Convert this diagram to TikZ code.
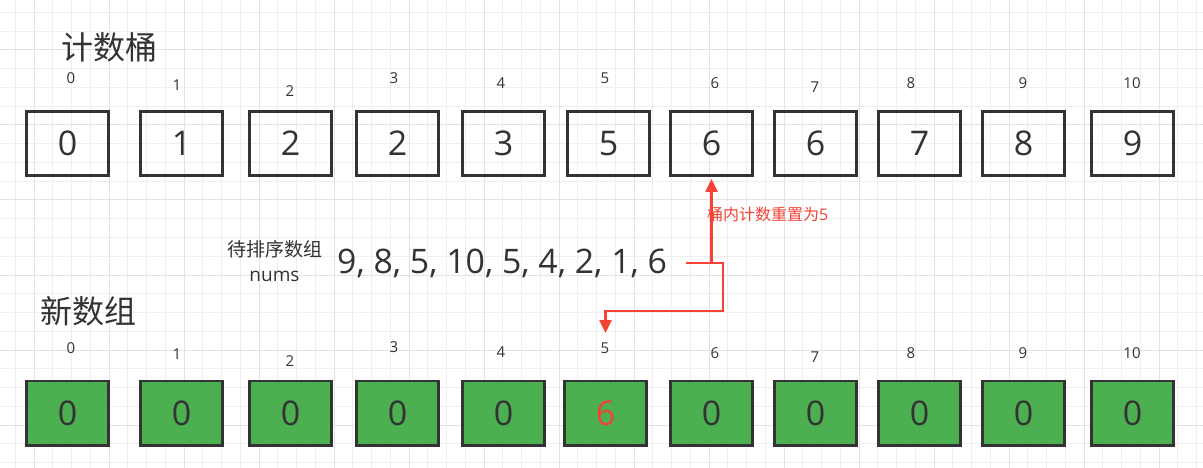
\documentclass[tikz,border=0pt]{standalone}
\usepackage{fontspec}
\setmainfont{Open Sans}
\newfontfamily\cjk{Noto Sans CJK SC}
\usetikzlibrary{arrows.meta}
\definecolor{ink}{HTML}{333333}
\definecolor{cellgreen}{HTML}{4CAF50}
\definecolor{markred}{HTML}{F44336}
\definecolor{minorline}{HTML}{EFEFEF}
\definecolor{majorline}{HTML}{E2E2E2}
\tikzset{
  bucket/.style={draw=ink, line width=2.7pt, minimum width=82.3pt, minimum height=64.3pt,
    inner sep=0pt, text=ink, font=\fontsize{34}{34}\selectfont},
  newcell/.style={bucket, fill=cellgreen},
  idx/.style={text=ink, inner sep=0pt, font=\fontsize{15}{15}\selectfont},
  heading/.style={text=ink, inner sep=0pt, font=\cjk\fontsize{32}{32}\selectfont},
  flow/.style={draw=markred, line width=2.5pt, -{Triangle[length=13pt,width=12pt]}},
}

\begin{document}
\begin{tikzpicture}[x=1pt,y=-1pt]
\fill [white] (0,0) rectangle (1203,468);
\useasboundingbox (0,0) rectangle (1203,468);
\foreach \gx in {15.25,34,...,1203} \draw [minorline, line width=1pt] (\gx,0) -- (\gx,468);
\foreach \gy in {12.5,31.25,...,468} \draw [minorline, line width=1pt] (0,\gy) -- (1203,\gy);
\foreach \gx in {34,109,...,1203} \draw [majorline, line width=1pt] (\gx,0) -- (\gx,468);
\foreach \gy in {50,125,...,468} \draw [majorline, line width=1pt] (0,\gy) -- (1203,\gy);

\node [heading] (bucketTitle) at (109,47) {计数桶};
\node [heading] (newTitle) at (88.5,311) {新数组};

\node [idx] (bi0) at (71,78) {0};
\node [idx] (bi1) at (177,85.5) {1};
\node [idx] (bi2) at (290,91.5) {2};
\node [idx] (bi3) at (394,78) {3};
\node [idx] (bi4) at (501,83) {4};
\node [idx] (bi5) at (605,78) {5};
\node [idx] (bi6) at (715,83) {6};
\node [idx] (bi7) at (815,87) {7};
\node [idx] (bi8) at (911,83) {8};
\node [idx] (bi9) at (1023,83) {9};
\node [idx] (bi10) at (1132,83) {10};

\node [bucket] (b0) at (67.5,143.5) {0};
\node [bucket] (b1) at (181.5,143.5) {1};
\node [bucket] (b2) at (290.5,143.5) {2};
\node [bucket] (b3) at (397.5,143.5) {2};
\node [bucket] (b4) at (503.5,143.5) {3};
\node [bucket] (b5) at (608.5,143.5) {5};
\node [bucket] (b6) at (711.5,143.5) {6};
\node [bucket] (b7) at (815.5,143.5) {6};
\node [bucket] (b8) at (919.5,143.5) {7};
\node [bucket] (b9) at (1023.5,143.5) {8};
\node [bucket] (b10) at (1132.5,143.5) {9};

\node [text=ink, align=center, inner sep=0pt, font=\fontsize{19}{25}\selectfont] (numsLabel) at (274.5,261.5) {{\cjk 待排序数组}\\nums};
\node [text=ink, inner sep=0pt, anchor=base west, font=\fontsize{33.8}{34}\selectfont] (nums) at (337,273) {9, 8, 5, 10, 5, 4, 2, 1, 6};
\node [text=markred, inner sep=0pt, anchor=base west, font=\fontsize{16}{16}\selectfont] (resetNote) at (707,221) {{\cjk 桶内计数重置为}5};

\node [idx] (ni0) at (71,348) {0};
\node [idx] (ni1) at (177,354) {1};
\node [idx] (ni2) at (290,361) {2};
\node [idx] (ni3) at (394,347) {3};
\node [idx] (ni4) at (501,352) {4};
\node [idx] (ni5) at (605,348.5) {5};
\node [idx] (ni6) at (715,353) {6};
\node [idx] (ni7) at (815,357) {7};
\node [idx] (ni8) at (911,353) {8};
\node [idx] (ni9) at (1023,353) {9};
\node [idx] (ni10) at (1132,353) {10};

\node [newcell] (n0) at (67.5,413) {0};
\node [newcell] (n1) at (181.5,413) {0};
\node [newcell] (n2) at (290.5,413) {0};
\node [newcell] (n3) at (397.5,413) {0};
\node [newcell] (n4) at (503.5,413) {0};
\node [newcell, text=markred] (n5) at (605.5,413) {6};
\node [newcell] (n6) at (711.5,413) {0};
\node [newcell] (n7) at (815.5,413) {0};
\node [newcell] (n8) at (919.5,413) {0};
\node [newcell] (n9) at (1023.5,413) {0};
\node [newcell] (n10) at (1132.5,413) {0};

\coordinate (tail) at (686,263);
\coordinate (drop) at (605.5,333);
\draw [flow] (tail) -| (723,311) -| (drop);
\draw [flow, shorten >=2pt] (b6.south |- tail) -- (b6.south);
\end{tikzpicture}
\end{document}
